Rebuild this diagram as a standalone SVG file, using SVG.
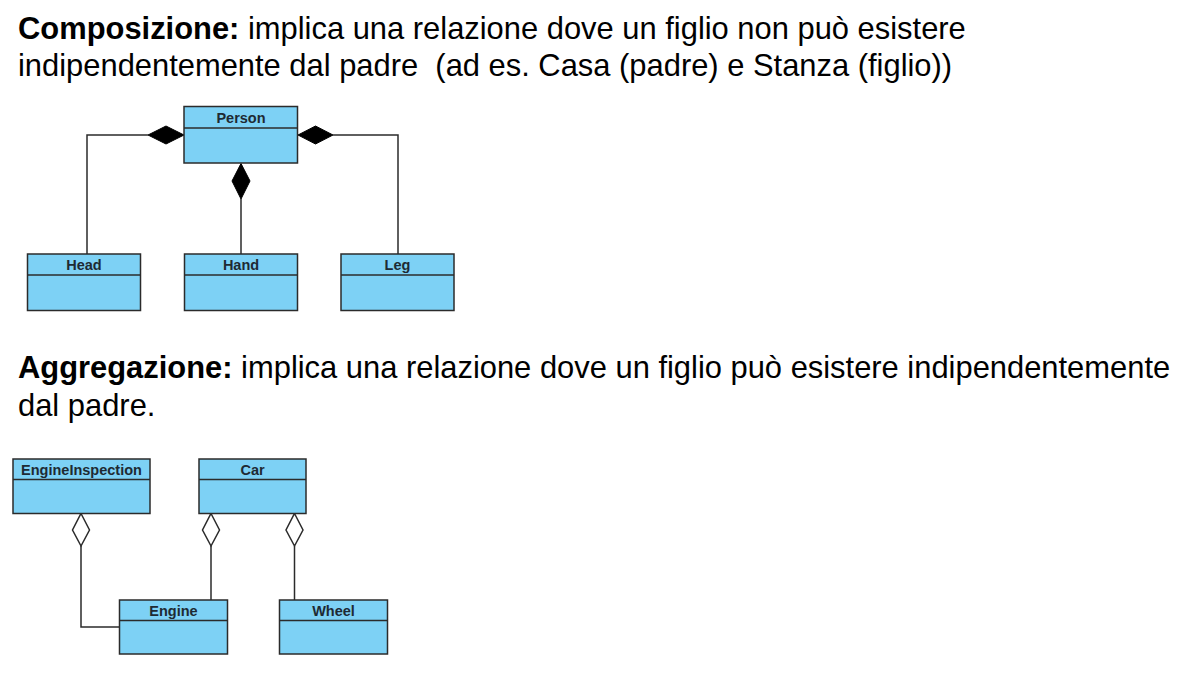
<svg xmlns="http://www.w3.org/2000/svg" width="1177" height="673" viewBox="0 0 1177 673">
<defs>
<style>
.t{font-family:"Liberation Sans",Arial,sans-serif;font-size:30.9px;fill:#000;white-space:pre}
.b{font-weight:bold}
.cls rect{fill:#7DD1F5;stroke:#2b2b2b;stroke-width:1.5}
.cls line{stroke:#2b2b2b;stroke-width:1.5}
.cls text{font-family:"Liberation Sans",Arial,sans-serif;font-size:14.5px;font-weight:bold;fill:#1e2a33;text-anchor:middle}
.con path.l{fill:none;stroke:#2b2b2b;stroke-width:1.5}
.comp{fill:#000;stroke:#000;stroke-width:1}
.agg{fill:#fff;stroke:#2b2b2b;stroke-width:1.5}
</style>
</defs>
<rect width="1177" height="673" fill="#fff"/>
<text class="t" x="18" y="38.5"><tspan class="b">Composizione:</tspan> implica una relazione dove un figlio non può esistere</text>
<text class="t" x="18" y="76" xml:space="preserve">indipendentemente dal padre  (ad es. Casa (padre) e Stanza (figlio))</text>
<text class="t" x="18" y="377.5"><tspan class="b">Aggregazione:</tspan> implica una relazione dove un figlio può esistere indipendentemente</text>
<text class="t" x="18" y="415.5">dal padre.</text>

<g class="con">
<path class="l" d="M87,254 V135 H148"/>
<path class="comp" d="M148,135 L166,126 L184,135 L166,144 Z"/>
<path class="l" d="M398,254 V135 H333"/>
<path class="comp" d="M298,135 L315.5,126 L333,135 L315.5,144 Z"/>
<path class="l" d="M241,254 V199"/>
<path class="comp" d="M241,163.5 L250,181 L241,199 L232,181 Z"/>
<path class="l" d="M119.5,627 H81 V546"/>
<path class="agg" d="M81,513.5 L89.5,530 L81,546 L72.5,530 Z"/>
<path class="l" d="M211,600 V546"/>
<path class="agg" d="M211,513.5 L219.5,530 L211,546 L202.5,530 Z"/>
<path class="l" d="M294.5,600 V546"/>
<path class="agg" d="M294.5,513.5 L303,530 L294.5,546 L286,530 Z"/>
</g>

<g id="person" class="cls"><rect x="184" y="106.5" width="113.5" height="56.5"/><line x1="184" y1="128" x2="297.5" y2="128"/><text x="241" y="123">Person</text></g>
<g id="head" class="cls"><rect x="27.5" y="254" width="113" height="56.5"/><line x1="27.5" y1="275" x2="140.5" y2="275"/><text x="84" y="270">Head</text></g>
<g id="hand" class="cls"><rect x="184.5" y="254" width="113" height="56.5"/><line x1="184.5" y1="275" x2="297.5" y2="275"/><text x="241" y="270">Hand</text></g>
<g id="leg" class="cls"><rect x="341" y="254" width="113" height="56.5"/><line x1="341" y1="275" x2="454" y2="275"/><text x="397.5" y="270">Leg</text></g>

<g id="engineinspection" class="cls"><rect x="13" y="459" width="137" height="54.5"/><line x1="13" y1="479.5" x2="150" y2="479.5"/><text x="81.5" y="475">EngineInspection</text></g>
<g id="car" class="cls"><rect x="199" y="459" width="107" height="54.5"/><line x1="199" y1="479.5" x2="306" y2="479.5"/><text x="252.5" y="475">Car</text></g>
<g id="engine" class="cls"><rect x="119.5" y="600" width="108" height="54"/><line x1="119.5" y1="620.5" x2="227.5" y2="620.5"/><text x="173.5" y="616">Engine</text></g>
<g id="wheel" class="cls"><rect x="279.5" y="600" width="108" height="54"/><line x1="279.5" y1="620.5" x2="387.5" y2="620.5"/><text x="333.5" y="616">Wheel</text></g>
</svg>
